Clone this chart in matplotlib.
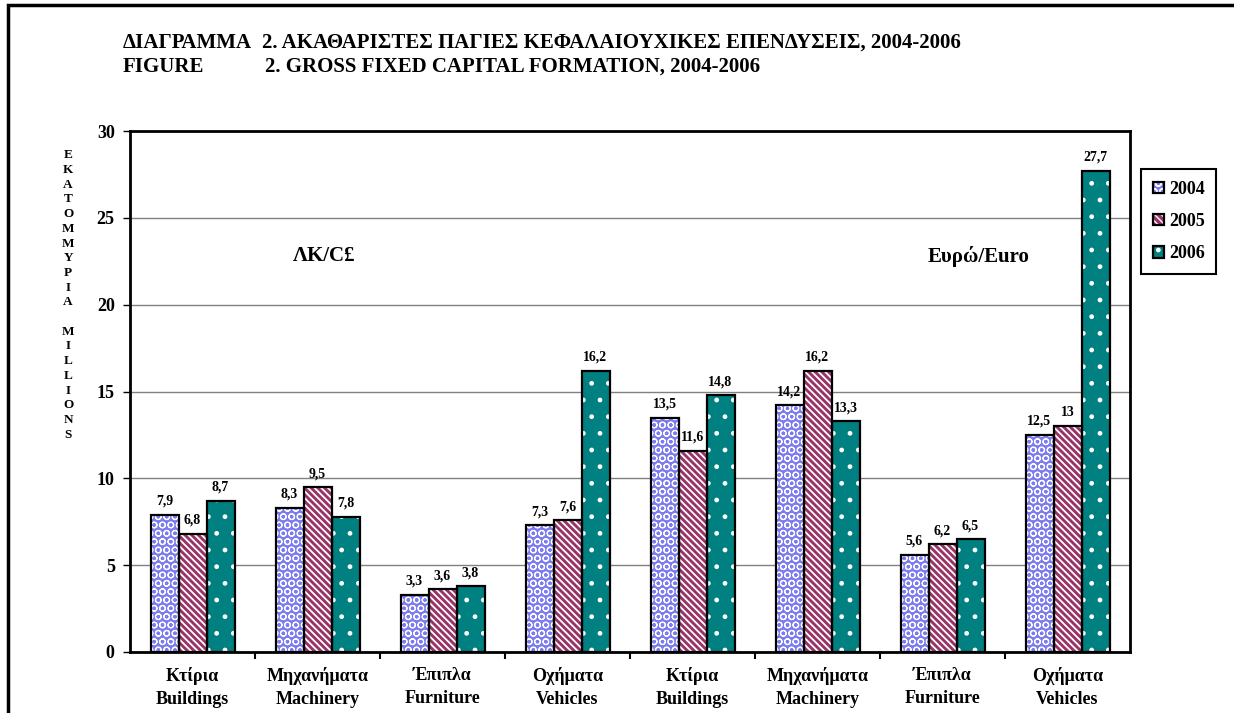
import matplotlib
matplotlib.use("Agg")
import matplotlib.pyplot as plt
import numpy as np
from matplotlib.patches import Patch, Rectangle
from matplotlib.legend_handler import HandlerTuple

# ---- data ----
cats_gr = ["Κτίρια", "Μηχανήματα", "Έπιπλα", "Οχήματα",
           "Κτίρια", "Μηχανήματα", "Έπιπλα", "Οχήματα"]
cats_en = ["Buildings", "Machinery", "Furniture", "Vehicles",
           "Buildings", "Machinery", "Furniture", "Vehicles"]
years = ["2004", "2005", "2006"]
v2004 = [7.9, 8.3, 3.3, 7.3, 13.5, 14.2, 5.6, 12.5]
v2005 = [6.8, 9.5, 3.6, 7.6, 11.6, 16.2, 6.2, 13]
v2006 = [8.7, 7.8, 3.8, 16.2, 14.8, 13.3, 6.5, 27.7]
yticks = [0, 5, 10, 15, 20, 25, 30]

plt.rcParams['font.family'] = ['Liberation Serif', 'DejaVu Serif']
plt.rcParams['font.weight'] = 'bold'

fig = plt.figure(figsize=(12.34, 7.13), dpi=100)
ax = fig.add_axes([130 / 1234, 1 - 652 / 713, 1000 / 1234, 521 / 713])

x = np.arange(len(cats_gr))
w = 0.224
styles = [
    (v2004, '#7c7cf0', 'OO', 0.8),
    (v2005, '#993366', '\\\\\\\\\\', 1.3),
    (v2006, '#008080', '.', 1.0),
]
handles = []
for i, (vals, col, hatch, hlw) in enumerate(styles):
    pos = x + (i - 1) * w
    plt.rcParams['hatch.linewidth'] = hlw
    ax.bar(pos, vals, w, color=col, hatch=hatch, edgecolor='white', linewidth=0, zorder=2)
    ax.bar(pos, vals, w, facecolor='none', edgecolor='black', linewidth=1.6, zorder=3)
    for p, v in zip(pos, vals):
        ax.annotate(f"{v:g}".replace('.', ','), (p, v), xytext=(0, 5),
                    textcoords='offset points', ha='center', va='bottom',
                    fontsize=10, fontweight='bold')
    h1 = Patch(facecolor=col, hatch=hatch, edgecolor='white', linewidth=0)
    h2 = Patch(facecolor='none', edgecolor='black', linewidth=1.6)
    handles.append((h1, h2))

ax.set_xlim(-0.5, 7.5)
ax.set_ylim(0, 30)
ax.set_yticks(yticks)
ax.set_yticklabels([str(t) for t in yticks], fontsize=13, fontweight='bold')
ax.yaxis.grid(True, color='#808080', linewidth=1, zorder=0)
ax.set_axisbelow(True)
ax.tick_params(axis='y', direction='out', length=5, width=1, pad=6)

ax.set_xticks(x)
ax.set_xticklabels([f"{g}\n{e}" for g, e in zip(cats_gr, cats_en)],
                   fontsize=13, fontweight='bold', linespacing=1.45)
ax.tick_params(axis='x', length=0, pad=11)
ax.set_xticks(np.arange(0.5, 7.5, 1), minor=True)
ax.tick_params(axis='x', which='minor', direction='out', length=5, width=1.5)

for s in ax.spines.values():
    s.set_linewidth(2)

ax.text(1.05, 22.8, "ΛΚ/C£", ha='center', va='center', fontsize=15, fontweight='bold')
ax.text(6.7, 22.8, "Ευρώ/Euro", ha='right', va='center', fontsize=15, fontweight='bold')

leg = fig.legend(handles, years, loc='upper left',
                 bbox_to_anchor=(1141 / 1234, 1 - 169 / 713), borderaxespad=0,
                 handler_map={tuple: HandlerTuple(ndivide=1)},
                 prop={'size': 13, 'weight': 'bold'}, fancybox=False,
                 edgecolor='black', framealpha=1, handlelength=0.6,
                 handleheight=0.6, handletextpad=0.3, labelspacing=0.85,
                 borderpad=0.65)
leg.get_frame().set_linewidth(1.5)

# vertical stacked y label
ylab = "\n".join(list("EKATOMMYPIA") + [" "] + list("MILLIONS"))
fig.text(68 / 1234, 1 - 295 / 713, ylab, ha='center', va='center',
         fontsize=9.5, fontweight='bold', linespacing=1.3)

# title
fs_t = 15
fig.text(123 / 1234, 1 - 43 / 713, "ΔΙΑΓΡΑΜΜΑ", ha='left', va='center', fontsize=fs_t, fontweight='bold')
fig.text(262 / 1234, 1 - 43 / 713, "2. ΑΚΑΘΑΡΙΣΤΕΣ ΠΑΓΙΕΣ ΚΕΦΑΛΑΙΟΥΧΙΚΕΣ ΕΠΕΝΔΥΣΕΙΣ, 2004-2006",
         ha='left', va='center', fontsize=fs_t, fontweight='bold')
fig.text(123 / 1234, 1 - 67 / 713, "FIGURE", ha='left', va='center', fontsize=fs_t, fontweight='bold')
fig.text(265 / 1234, 1 - 67 / 713, "2. GROSS FIXED CAPITAL FORMATION, 2004-2006",
         ha='left', va='center', fontsize=fs_t, fontweight='bold')

# outer frame
fig.patches.append(Rectangle((8 / 1234, -0.05), 1.2, 1.05 - 5 / 713, transform=fig.transFigure,
                             fill=False, edgecolor='black', linewidth=2.5))

fig.savefig("out.png", dpi=100)
